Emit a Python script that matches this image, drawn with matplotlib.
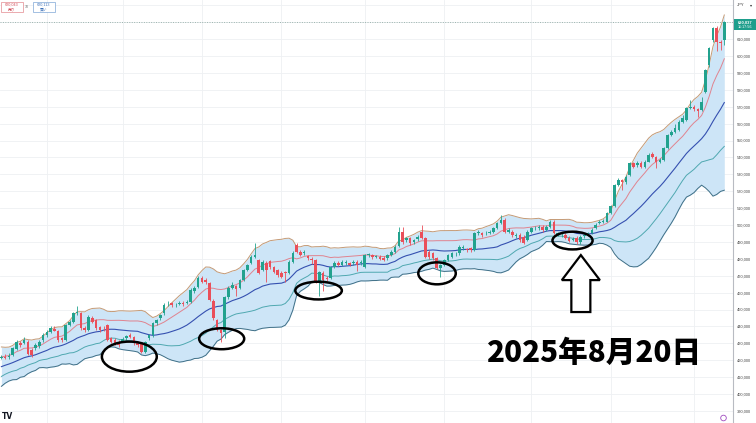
import numpy as np
import pandas as pd
import matplotlib
matplotlib.use("Agg")
import matplotlib.pyplot as plt
from matplotlib.patches import Ellipse, Polygon, Rectangle, Circle

# ---------------- data (thousand JPY, daily candles) ----------------
# closes before the visible window (only used to seed the 20-day bands)
prior_closes = [405, 408, 410, 412, 409, 413, 411, 414, 416, 413,
                418, 420, 417, 421, 423, 420, 424, 422, 426]

opens = [421.5, 421.9, 421.9, 423.1, 426.4, 430.4, 430.0, 430.9, 426.0, 427.0,
         428.4, 432.0, 434.9, 436.9, 438.5, 437.3, 433.1, 432.0, 440.8, 442.8,
         447.9, 447.8, 439.1, 437.9, 445.0, 443.8, 439.8, 438.5, 440.8, 433.1,
         432.0, 430.9, 431.4, 433.0, 434.9, 433.9, 430.0, 430.0, 425.0, 433.0,
         434.9, 441.8, 444.8, 447.8, 453.2, 453.7, 452.6, 453.3, 454.0, 453.8,
         454.6, 460.9, 463.3, 468.6, 467.5, 465.7, 455.0, 443.8, 437.9, 436.7,
         457.4, 462.7, 463.9, 462.7, 467.5, 473.4, 477.5, 481.1, 479.3, 473.4,
         477.5, 478.7, 475.1, 473.4, 471.6, 472.2, 471.6, 478.1, 488.2, 484.0,
         483.4, 481.7, 479.9, 479.3, 466.3, 471.6, 468.6, 468.6, 475.1, 477.5,
         476.3, 477.5, 477.5, 477.5, 478.1, 477.5, 475.1, 482.2, 482.2, 481.1,
         481.1, 480.5, 480.5, 482.2, 484.2, 487.6, 496.0, 491.1, 492.1, 490.1,
         491.5, 496.0, 492.1, 484.0, 483.4, 480.5, 474.6, 476.3, 479.3, 481.2,
         482.7, 483.3, 486.2, 485.4, 486.2, 485.2, 495.1, 495.1, 495.0, 495.1,
         496.0, 498.0, 501.0, 503.0, 496.0, 496.0, 493.5, 494.1, 493.1, 491.1,
         496.0, 498.0, 498.0, 499.0, 497.0, 499.0, 502.0, 494.7, 494.0, 494.1,
         492.6, 491.1, 492.6, 489.9, 493.2, 494.1, 495.1, 498.0, 501.0, 501.6,
         502.0, 506.9, 511.2, 523.7, 526.6, 525.6, 529.6, 536.5, 535.5, 536.9,
         534.5, 537.5, 541.8, 540.4, 537.5, 538.5, 545.4, 553.3, 555.2, 556.2,
         561.1, 562.1, 569.1, 570.0, 568.5, 568.0, 578.9, 594.7, 609.5, 616.4,
         608.5, 609.5]

closes = [421.9, 421.3, 422.5, 427.0, 430.9, 429.0, 432.0, 423.5, 423.1, 429.0,
          430.9, 434.9, 436.9, 438.9, 437.5, 432.0, 432.0, 440.8, 442.8, 447.8,
          448.7, 438.9, 437.9, 445.8, 442.8, 438.9, 437.9, 438.2, 432.0, 430.9,
          430.0, 429.0, 432.4, 434.3, 433.9, 430.0, 429.0, 425.0, 430.9, 434.9,
          441.8, 443.8, 446.7, 452.7, 453.4, 452.7, 452.8, 454.0, 453.3, 454.6,
          461.5, 462.7, 468.5, 466.4, 466.3, 455.6, 445.0, 437.9, 436.1, 457.4,
          462.7, 464.5, 462.1, 467.5, 473.4, 476.3, 481.1, 482.2, 471.6, 478.1,
          473.4, 475.1, 472.2, 470.4, 469.2, 471.6, 478.1, 483.4, 484.0, 482.2,
          484.0, 480.5, 479.3, 466.3, 472.2, 467.5, 468.0, 475.1, 477.5, 476.3,
          478.1, 478.1, 476.3, 478.1, 476.3, 478.1, 482.2, 482.4, 481.1, 481.7,
          479.9, 479.3, 482.2, 484.2, 487.2, 496.0, 490.1, 492.1, 489.2, 491.1,
          493.1, 492.1, 481.1, 481.1, 480.5, 474.6, 476.3, 479.3, 482.2, 483.3,
          482.9, 487.2, 487.2, 485.2, 485.2, 495.1, 496.0, 494.1, 495.2, 496.0,
          498.0, 501.0, 503.0, 496.0, 497.0, 494.1, 494.1, 491.1, 489.2, 496.0,
          498.0, 498.2, 499.0, 497.0, 499.0, 502.0, 495.1, 495.3, 494.2, 492.3,
          490.8, 492.0, 489.9, 493.1, 493.8, 495.0, 497.0, 500.0, 502.0, 502.4,
          506.9, 511.2, 523.7, 526.6, 525.6, 528.6, 536.5, 534.5, 536.9, 534.5,
          537.5, 541.4, 540.4, 537.5, 538.5, 545.4, 553.3, 555.2, 557.2, 561.1,
          563.1, 569.1, 570.0, 568.5, 567.7, 573.0, 591.7, 604.6, 616.4, 608.5,
          607.6, 620.037]

highs = [423.0, 423.5, 424.0, 427.8, 432.0, 431.5, 433.5, 432.0, 427.5, 430.0,
         432.0, 436.0, 438.0, 440.5, 440.0, 438.0, 434.0, 441.5, 444.0, 448.5,
         452.0, 448.5, 440.0, 446.5, 446.0, 444.5, 440.5, 440.0, 441.5, 434.0,
         433.0, 432.0, 433.5, 435.0, 436.0, 434.5, 431.0, 431.0, 431.5, 435.5,
         442.5, 444.5, 447.5, 454.0, 455.0, 454.5, 454.0, 455.0, 455.0, 455.5,
         462.5, 464.0, 470.0, 470.0, 468.5, 466.5, 456.0, 444.5, 438.5, 458.0,
         464.0, 466.0, 464.5, 468.0, 474.0, 477.0, 482.0, 489.3, 480.0, 479.0,
         478.5, 479.5, 476.0, 474.0, 472.5, 473.0, 479.0, 484.5, 489.5, 485.0,
         485.0, 482.5, 481.0, 480.0, 473.0, 472.5, 470.0, 476.0, 478.5, 478.5,
         479.0, 479.0, 478.0, 479.0, 479.0, 479.0, 483.0, 483.5, 483.0, 482.5,
         482.0, 481.5, 483.0, 485.0, 488.0, 499.0, 499.0, 493.0, 493.0, 492.0,
         494.0, 500.0, 493.0, 485.0, 484.0, 481.0, 477.0, 480.0, 483.0, 484.0,
         484.0, 488.0, 488.0, 486.5, 487.0, 496.0, 497.0, 496.0, 496.5, 497.0,
         499.0, 502.0, 506.0, 504.0, 498.0, 497.0, 495.0, 495.0, 494.0, 497.0,
         499.0, 499.5, 500.0, 500.0, 500.0, 503.0, 503.0, 496.0, 495.0, 495.0,
         493.5, 493.0, 493.5, 494.0, 494.5, 496.0, 498.0, 501.0, 503.0, 503.5,
         507.5, 512.0, 524.5, 528.0, 527.5, 529.5, 537.5, 537.5, 538.0, 538.0,
         538.5, 542.5, 543.0, 541.0, 539.5, 546.0, 554.0, 556.5, 560.0, 562.0,
         565.0, 570.0, 574.0, 571.0, 569.5, 575.5, 592.5, 605.5, 617.0, 617.5,
         609.5, 621.0]

lows = [420.5, 420.5, 421.0, 422.5, 426.0, 428.0, 429.5, 423.0, 422.0, 426.0,
        427.5, 431.0, 434.0, 436.0, 437.0, 431.0, 431.0, 431.5, 440.0, 442.0,
        447.0, 438.0, 436.5, 437.0, 442.0, 438.0, 436.5, 437.0, 431.5, 430.0,
        429.0, 428.0, 430.5, 432.0, 433.0, 429.0, 428.0, 424.0, 424.5, 432.0,
        434.0, 441.0, 444.0, 447.0, 452.0, 451.5, 451.5, 452.5, 452.0, 453.0,
        454.0, 460.0, 462.5, 465.5, 465.0, 455.0, 444.0, 437.0, 431.0, 433.0,
        456.5, 462.0, 458.0, 462.0, 467.0, 472.5, 477.0, 480.5, 471.0, 472.5,
        466.0, 474.0, 471.5, 469.5, 468.5, 466.0, 471.0, 477.5, 483.5, 481.5,
        482.5, 479.0, 477.0, 465.5, 458.0, 461.0, 467.0, 468.0, 474.5, 475.5,
        475.5, 476.5, 475.5, 476.5, 473.0, 476.5, 474.5, 481.0, 480.0, 480.5,
        479.0, 478.5, 479.5, 481.5, 483.5, 487.0, 489.0, 490.0, 488.0, 489.0,
        490.5, 491.5, 480.5, 480.0, 479.5, 474.0, 469.5, 475.5, 478.5, 480.5,
        481.5, 482.5, 485.0, 484.0, 484.0, 484.5, 494.0, 493.0, 494.0, 494.5,
        495.5, 497.5, 500.5, 495.5, 495.0, 493.0, 492.5, 490.0, 488.5, 490.5,
        495.5, 497.0, 497.0, 496.0, 496.5, 498.5, 494.5, 493.5, 493.0, 491.5,
        490.0, 490.5, 489.0, 489.0, 492.5, 493.5, 494.5, 497.5, 500.5, 501.0,
        501.5, 506.5, 510.5, 523.0, 521.0, 524.5, 529.0, 533.5, 534.5, 533.5,
        533.5, 537.0, 539.5, 534.0, 536.5, 538.0, 545.0, 552.5, 554.5, 555.5,
        560.5, 561.5, 568.5, 567.5, 564.0, 567.5, 578.0, 593.5, 608.5, 603.0,
        603.5, 606.5]

month_starts = [12, 32, 53, 74, 96, 117, 140, 161, 183]   # vertical grid (first trading day)
price_levels = list(range(390, 640, 10))                   # thousand JPY
label_levels = list(range(390, 620, 10))
bb_len = 20
bid_text, ask_text, spread_text = "620,043", "620,113", "70"
last_text, countdown_text = "620,037", "11:17:56"
date_label = "2025年8月20日"
highlight_idx = [33.8, 58.2, 83.8, 115.1, 150.9]          # circled spots (candle index)
highlight_px = [422.1, 432.7, 461.2, 471.4, 490.8]        # circled spots (price)
highlight_w = [14.5, 11.9, 12.3, 9.9, 10.6]
highlight_h = [17.8, 12.4, 10.5, 13.0, 10.5]
arrow_idx, arrow_tip, arrow_neck, arrow_tail = 153.1, 482.2, 467.4, 448.5

# ---------------- bands ----------------
s = pd.Series(prior_closes + closes, dtype=float)
n0 = len(prior_closes)
mid = s.rolling(bb_len).mean().to_numpy()[n0:]
sd = s.rolling(bb_len).std(ddof=0).to_numpy()[n0:]
x = np.arange(len(closes))
o = np.array(opens); c = np.array(closes); h = np.array(highs); l = np.array(lows)

W, H = 756, 423
fig = plt.figure(figsize=(W / 100, H / 100), dpi=100)
ax = fig.add_axes([0, 0, 733 / W, 1])
ax.set_xlim(-0.37, 193.3)
ax.set_ylim(382.84, 633.14)

GREEN, RED = "#22a28e", "#ea4f5a"
ax.fill_between(x, mid + 2 * sd, mid - 2 * sd, color="#cde5f7", lw=0, zorder=1)
ax.plot(x, mid + 2 * sd, color="#c49a76", lw=0.7, zorder=2)
ax.plot(x, mid + sd, color="#e0838f", lw=0.7, zorder=2)
ax.plot(x, mid, color="#3550b0", lw=0.8, zorder=2)
ax.plot(x, mid - sd, color="#4fa8b0", lw=0.7, zorder=2)
ax.plot(x, mid - 2 * sd, color="#3f6f86", lw=0.7, zorder=2)

cols = np.where(c >= o, GREEN, RED)
ax.vlines(x, l, h, colors=cols, lw=0.6, zorder=3)
ax.bar(x, np.maximum(np.abs(c - o), 0.35), bottom=np.minimum(o, c), width=0.68,
       color=cols, lw=0, zorder=4)

ax.axhline(c[-1], color="#9ab3ad", lw=0.7, ls=(0, (1, 1.5)), zorder=2)

for cx, cy, ew, eh in zip(highlight_idx, highlight_px, highlight_w, highlight_h):
    ax.add_patch(Ellipse((cx, cy), ew, eh, fill=False, ec="black", lw=1.8, zorder=6))

hw, sw = 5.02, 2.51
ax.add_patch(Polygon([(arrow_idx, arrow_tip), (arrow_idx + hw, arrow_neck),
                      (arrow_idx + sw, arrow_neck), (arrow_idx + sw, arrow_tail),
                      (arrow_idx - sw, arrow_tail), (arrow_idx - sw, arrow_neck),
                      (arrow_idx - hw, arrow_neck)], closed=True, fc="white",
                     ec="black", lw=1.6, joinstyle="miter", zorder=6))

ax.set_xticks(month_starts)
ax.set_xticklabels([])
ax.set_yticks(price_levels)
ax.set_yticklabels([f"{v * 1000:,}" if v in label_levels else "" for v in price_levels],
                   fontsize=2.9, color="#4a4a4a", family="Liberation Sans")
ax.yaxis.tick_right()
ax.tick_params(axis="both", length=0)
ax.tick_params(axis="y", pad=2.6)
ax.grid(True, color="#eef0f3", lw=0.6, zorder=0)
ax.set_axisbelow(True)
for sp in ["top", "left", "bottom"]:
    ax.spines[sp].set_visible(False)
ax.spines["right"].set_color("#b8bbc2")
ax.spines["right"].set_linewidth(0.8)

# ---------------- overlay (pixel coords) ----------------
ov = fig.add_axes([0, 0, 1, 1], zorder=10)
ov.set_xlim(0, W); ov.set_ylim(H, 0); ov.axis("off"); ov.patch.set_alpha(0)
cjk = ["Noto Sans CJK JP", "DejaVu Sans"]

ov.add_patch(Rectangle((0.5, 1.8), 22, 10, fc="white", ec="#e38a90", lw=0.5))
ov.text(11.5, 5.0, bid_text, fontsize=2.7, color="#d04a55", ha="center", va="center", family="Liberation Sans")
ov.text(11.5, 9.3, "売り", fontsize=2.7, color="#d04a55", ha="center", va="center", family=cjk)
ov.text(27.3, 6.5, spread_text, fontsize=2.5, color="#666666", ha="center", va="center", family="Liberation Sans")
ov.add_patch(Rectangle((32.5, 1.8), 22, 10, fc="white", ec="#7fa6d6", lw=0.5))
ov.text(43.5, 5.0, ask_text, fontsize=2.7, color="#3a6fb8", ha="center", va="center", family="Liberation Sans")
ov.text(43.5, 9.3, "買い", fontsize=2.7, color="#3a6fb8", ha="center", va="center", family=cjk)

ov.text(736.5, 5.2, "JPY", fontsize=3, color="#333333", ha="left", va="center", family="Liberation Sans")
ov.text(751, 5.2, "▾", fontsize=3, color="#333333", ha="center", va="center")
ov.add_patch(Rectangle((733.5, 19.0), 22.5, 11.5, fc="#1e9e8c", ec="none"))
ov.text(744.7, 22.3, last_text, fontsize=2.9, color="white", ha="center", va="center", family="Liberation Sans", weight="bold")
ov.text(744.7, 27.4, countdown_text, fontsize=2.7, color="white", ha="center", va="center", family="Liberation Sans")

ov.text(486, 353, date_label, fontsize=21.3, weight=900, color="black",
        ha="left", va="center", family=cjk)

ov.text(1.5, 416.5, "TV", fontsize=5.5, weight="bold", color="#131722", ha="left", va="center")
ov.add_patch(Circle((723.5, 418), 2.8, fill=False, ec="#a04cc0", lw=0.6))

fig.savefig("out.png", dpi=100)
